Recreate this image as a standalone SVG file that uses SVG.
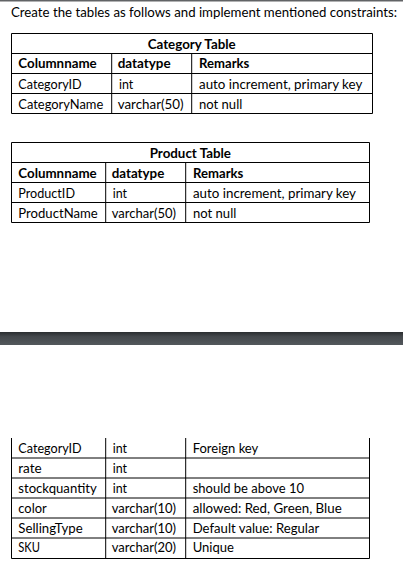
<svg xmlns="http://www.w3.org/2000/svg" width="403" height="569" viewBox="0 0 403 569">
<defs>
<linearGradient id="bar" x1="0" y1="0" x2="0" y2="1">
<stop offset="0" stop-color="#2a2d30"/>
<stop offset="0.35" stop-color="#44484c"/>
<stop offset="1" stop-color="#53585c"/>
</linearGradient>
<linearGradient id="topbar" x1="0" y1="0" x2="0" y2="1">
<stop offset="0" stop-color="#3a3d40"/>
<stop offset="1" stop-color="#d8d8d8"/>
</linearGradient>
</defs>
<style>
text{font-family:Lato,"Open Sans","Liberation Sans",sans-serif;font-size:13px;fill:#000}
.b{font-weight:bold}
.t{font-size:13px}
.ln{stroke:#000;stroke-width:1;fill:none}
</style>
<rect x="0" y="0" width="403" height="569" fill="#fff"/>
<rect x="0" y="0" width="403" height="2" fill="url(#topbar)"/>
<text class="t" x="11" y="17.3" textLength="386" lengthAdjust="spacingAndGlyphs">Create the tables as follows and implement mentioned constraints:</text>

<g id="category-table">
<path class="ln" d="M11.5 33.5H372.5V113.5H11.5Z M11.5 53.5H372.5 M11.5 73.5H372.5 M11.5 93.5H372.5 M111.7 53.5V113.5 M191.7 53.5V113.5"/>
<text class="b" x="147.7" y="48.5" textLength="88" lengthAdjust="spacingAndGlyphs">Category Table</text>
<text class="b" x="18.3" y="68.3" textLength="78.4" lengthAdjust="spacingAndGlyphs">Columnname</text>
<text class="b" x="117.7" y="68.3" textLength="53" lengthAdjust="spacingAndGlyphs">datatype</text>
<text class="b" x="199" y="68.3" textLength="50.3" lengthAdjust="spacingAndGlyphs">Remarks</text>
<text x="18.3" y="88.5" textLength="63.4" lengthAdjust="spacingAndGlyphs">CategoryID</text>
<text x="119" y="88.5" textLength="14.3" lengthAdjust="spacingAndGlyphs">int</text>
<text x="199" y="88.5" textLength="163.3" lengthAdjust="spacingAndGlyphs">auto increment, primary key</text>
<text x="18.3" y="108.8" textLength="85" lengthAdjust="spacingAndGlyphs">CategoryName</text>
<text x="117.7" y="108.8" textLength="66" lengthAdjust="spacingAndGlyphs">varchar(50)</text>
<text x="199" y="108.8" textLength="43.3" lengthAdjust="spacingAndGlyphs">not null</text>
</g>

<g id="product-table">
<path class="ln" d="M11.5 142.5H369.5V222.5H11.5Z M11.5 162.5H369.5 M11.5 182.5H369.5 M11.5 202.5H369.5 M105.7 162.5V222.5 M185.7 162.5V222.5"/>
<text class="b" x="149.7" y="157.5" textLength="81.3" lengthAdjust="spacingAndGlyphs">Product Table</text>
<text class="b" x="18.3" y="177.5" textLength="78.4" lengthAdjust="spacingAndGlyphs">Columnname</text>
<text class="b" x="111.7" y="177.5" textLength="52.6" lengthAdjust="spacingAndGlyphs">datatype</text>
<text class="b" x="193" y="177.5" textLength="50.3" lengthAdjust="spacingAndGlyphs">Remarks</text>
<text x="18.3" y="198" textLength="56.7" lengthAdjust="spacingAndGlyphs">ProductID</text>
<text x="112.7" y="198" textLength="14.3" lengthAdjust="spacingAndGlyphs">int</text>
<text x="193" y="198" textLength="163" lengthAdjust="spacingAndGlyphs">auto increment, primary key</text>
<text x="18.3" y="217.7" textLength="79.4" lengthAdjust="spacingAndGlyphs">ProductName</text>
<text x="111.7" y="217.7" textLength="64.3" lengthAdjust="spacingAndGlyphs">varchar(50)</text>
<text x="193" y="217.7" textLength="43.3" lengthAdjust="spacingAndGlyphs">not null</text>
</g>

<rect x="0" y="332" width="403" height="13" fill="url(#bar)"/>

<g id="product-table-continued">
<path class="ln" d="M11.5 438V558.5H369.5V438 M105.7 438V558.5 M185.7 438V558.5 M11.5 458H369.5 M11.5 478H369.5 M11.5 498H369.5 M11.5 518H369.5 M11.5 538H369.5"/>
<text x="18.3" y="452.7" textLength="63.4" lengthAdjust="spacingAndGlyphs">CategoryID</text>
<text x="112.7" y="452.7" textLength="14.3" lengthAdjust="spacingAndGlyphs">int</text>
<text x="192.7" y="452.7" textLength="65.6" lengthAdjust="spacingAndGlyphs">Foreign key</text>
<text x="18.3" y="472.7" textLength="23.4" lengthAdjust="spacingAndGlyphs">rate</text>
<text x="112.7" y="472.7" textLength="14.3" lengthAdjust="spacingAndGlyphs">int</text>
<text x="18.3" y="492.7" textLength="78.4" lengthAdjust="spacingAndGlyphs">stockquantity</text>
<text x="112.7" y="492.7" textLength="14.3" lengthAdjust="spacingAndGlyphs">int</text>
<text x="192.7" y="492.7" textLength="111.3" lengthAdjust="spacingAndGlyphs">should be above 10</text>
<text x="18.3" y="512.7" textLength="28.4" lengthAdjust="spacingAndGlyphs">color</text>
<text x="111.7" y="512.7" textLength="64.3" lengthAdjust="spacingAndGlyphs">varchar(10)</text>
<text x="192.7" y="512.7" textLength="149" lengthAdjust="spacingAndGlyphs">allowed: Red, Green, Blue</text>
<text x="18.3" y="532.7" textLength="64.4" lengthAdjust="spacingAndGlyphs">SellingType</text>
<text x="111.7" y="532.7" textLength="64.3" lengthAdjust="spacingAndGlyphs">varchar(10)</text>
<text x="192.7" y="532.7" textLength="126.6" lengthAdjust="spacingAndGlyphs">Default value: Regular</text>
<text x="18.3" y="552.3" textLength="21.7" lengthAdjust="spacingAndGlyphs">SKU</text>
<text x="111.7" y="552.3" textLength="64.3" lengthAdjust="spacingAndGlyphs">varchar(20)</text>
<text x="192.7" y="552.3" textLength="41.3" lengthAdjust="spacingAndGlyphs">Unique</text>
</g>
</svg>
